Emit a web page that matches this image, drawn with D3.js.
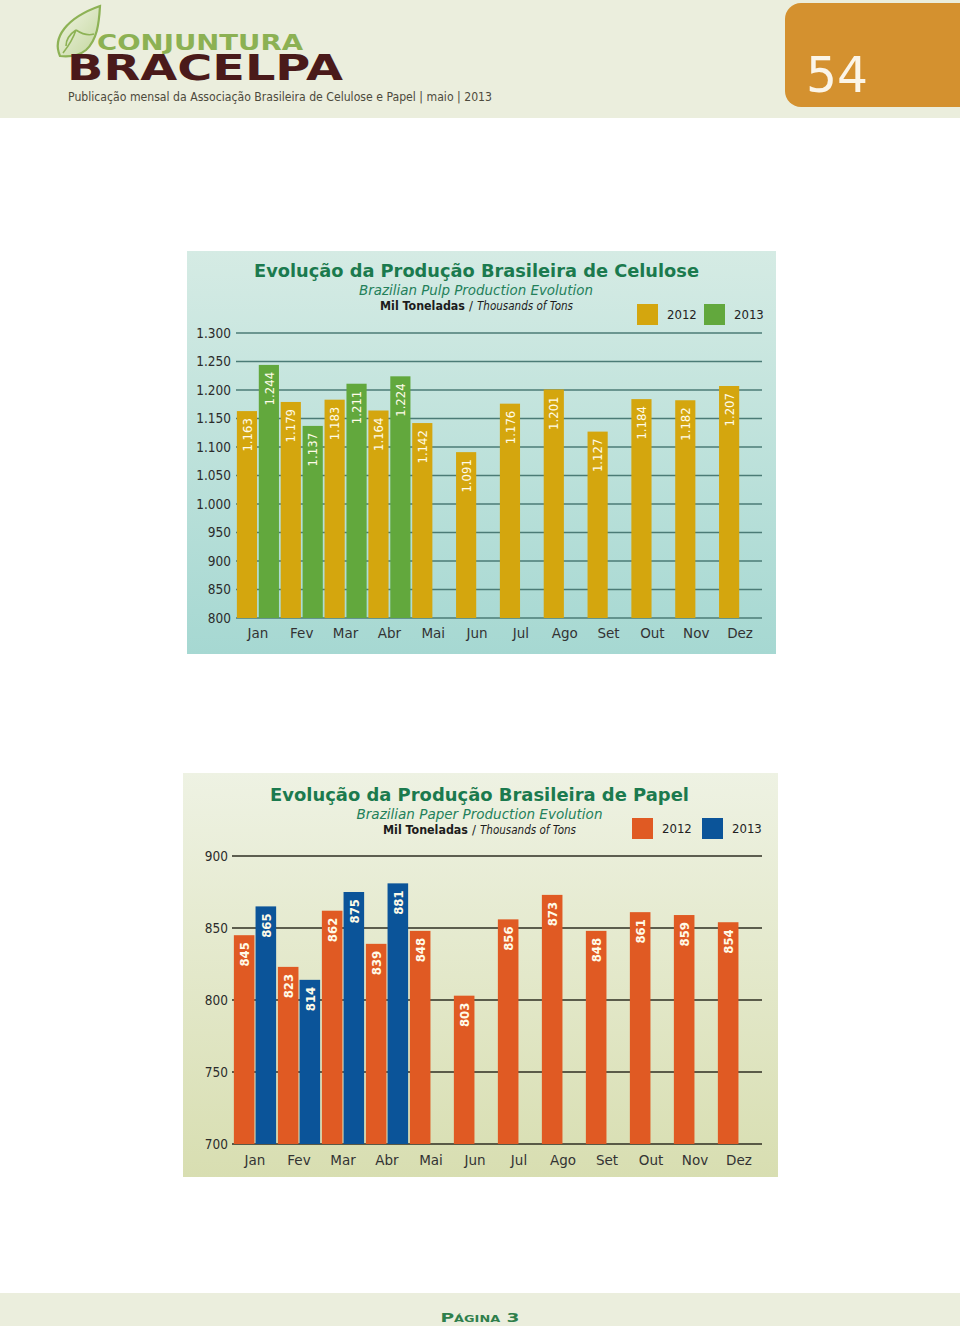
<!DOCTYPE html>
<html>
<head>
<meta charset="utf-8">
<script src="https://cdn.jsdelivr.net/npm/d3@7"></script>
<style>
  html,body{margin:0;padding:0;background:#fff;}
  svg{display:block;}
</style>
</head>
<body>
<svg id="page" width="960" height="1326"></svg>
<script>
// ---------- DATA ----------
const months = ["Jan","Fev","Mar","Abr","Mai","Jun","Jul","Ago","Set","Out","Nov","Dez"];
const years = ["2012","2013"];
const pulp2012 = [1163,1179,1183,1164,1142,1091,1176,1201,1127,1184,1182,1207];
const pulp2013 = [1244,1137,1211,1224];
const pulpTicks = [800,850,900,950,1000,1050,1100,1150,1200,1250,1300];
const paper2012 = [845,823,862,839,848,803,856,873,848,861,859,854];
const paper2013 = [865,814,875,881];
const paperTicks = [700,750,800,850,900];

const br = d3.formatLocale({decimal:",", thousands:".", grouping:[3], currency:["R$",""]});
const fmt = br.format(",d");

const svg = d3.select("#page");
const defs = svg.append("defs");

// ---------- HEADER / FOOTER ----------
svg.append("rect").attr("x",0).attr("y",0).attr("width",960).attr("height",118).attr("fill","#ebeedd");
svg.append("rect").attr("x",0).attr("y",1293).attr("width",960).attr("height",33).attr("fill","#ebeedd");

const leafG = defs.append("linearGradient").attr("id","leafG").attr("x1","0").attr("y1","0").attr("x2","1").attr("y2","1");
leafG.append("stop").attr("offset","0").attr("stop-color","#f2f5e6");
leafG.append("stop").attr("offset","1").attr("stop-color","#c2d69c");
svg.append("path")
  .attr("d","M60 56 C52 38 66 18 100 6 C99 24 97 40 86 50 C80 55 70 57 60 56 Z")
  .attr("fill","url(#leafG)").attr("stroke","#8db255").attr("stroke-width",2.2);
svg.append("path")
  .attr("d","M63 53 C70 44 74 36 76 30 M76 30 C70 34 66 40 66 46 M76 30 C82 34 88 36 94 34")
  .attr("fill","none").attr("stroke","#8db255").attr("stroke-width",1.6);

svg.append("text").attr("x",97).attr("y",50)
  .attr("font-family","DejaVu Sans").attr("font-weight","bold").attr("font-size",22)
  .attr("fill","#8cb153").attr("textLength",206).attr("lengthAdjust","spacingAndGlyphs")
  .text("CONJUNTURA");
svg.append("text").attr("x",67).attr("y",80)
  .attr("font-family","DejaVu Sans").attr("font-weight","bold").attr("font-size",36)
  .attr("fill","#4a1a1a").attr("textLength",276).attr("lengthAdjust","spacingAndGlyphs")
  .text("BRACELPA");
svg.append("text").attr("x",68).attr("y",101)
  .attr("font-family","DejaVu Sans").attr("font-size",11.5)
  .attr("fill","#4d4a3c").attr("textLength",424).attr("lengthAdjust","spacingAndGlyphs")
  .text("Publicação mensal da Associação Brasileira de Celulose e Papel | maio | 2013");

svg.append("rect").attr("x",785).attr("y",3).attr("width",200).attr("height",104).attr("rx",16)
  .attr("fill","#d4912f");
svg.append("text").attr("x",806).attr("y",92)
  .attr("font-family","DejaVu Sans").attr("font-size",50)
  .attr("fill","#fbf5e8").attr("textLength",62).attr("lengthAdjust","spacingAndGlyphs")
  .text("54");

svg.append("text").attr("x",480).attr("y",1322).attr("text-anchor","middle")
  .attr("font-family","DejaVu Sans").attr("font-weight","bold").attr("font-size",13)
  .attr("font-variant","small-caps")
  .attr("fill","#2f7f4c").attr("textLength",79).attr("lengthAdjust","spacingAndGlyphs")
  .text("Página 3");

// ---------- CHART BUILDER ----------
function chart(cfg){
  const g = svg.append("g");
  const gid = cfg.id + "bg";
  const lg = defs.append("linearGradient").attr("id",gid).attr("x1","0").attr("y1","0").attr("x2","0").attr("y2","1");
  lg.append("stop").attr("offset","0").attr("stop-color",cfg.bgTop);
  lg.append("stop").attr("offset","1").attr("stop-color",cfg.bgBottom);
  g.append("rect").attr("x",cfg.panel[0]).attr("y",cfg.panel[1])
    .attr("width",cfg.panel[2]).attr("height",cfg.panel[3]).attr("fill",`url(#${gid})`);

  const x = d3.scaleBand().domain(months).range(cfg.xRange).paddingInner(0).paddingOuter(0);
  const x1 = d3.scaleBand().domain(years).range([0,x.bandwidth()]).paddingInner(cfg.innerPad).paddingOuter(0.04);
  const y = d3.scaleLinear().domain(cfg.yDomain).range(cfg.yRange);

  // gridlines
  g.append("g").selectAll("line").data(cfg.ticks).join("line")
    .attr("x1",cfg.gridX[0]).attr("x2",cfg.gridX[1])
    .attr("y1",d=>y(d)).attr("y2",d=>y(d))
    .attr("stroke",cfg.gridColor).attr("stroke-width",1.6);

  // y tick labels
  g.append("g").selectAll("text").data(cfg.ticks).join("text")
    .attr("x",cfg.tickX).attr("y",d=>y(d)).attr("dy","0.36em")
    .attr("text-anchor","end")
    .attr("font-family","DejaVu Sans Condensed, DejaVu Sans").attr("font-stretch","condensed")
    .attr("font-size",cfg.tickSize).attr("fill","#2b2b2b")
    .text(d=>fmt(d));

  // bars
  const data = [];
  cfg.s2012.forEach((v,i)=>data.push({m:months[i],yr:"2012",v}));
  cfg.s2013.forEach((v,i)=>data.push({m:months[i],yr:"2013",v}));
  const color = d=> d.yr==="2012" ? cfg.c2012 : cfg.c2013;

  const bg = g.append("g");
  bg.selectAll("rect").data(data).join("rect")
    .attr("x",d=>x(d.m)+x1(d.yr)).attr("width",x1.bandwidth())
    .attr("y",d=>y(d.v)).attr("height",d=>y(cfg.yDomain[0])-y(d.v))
    .attr("fill",color);

  bg.selectAll("text").data(data).join("text")
    .attr("transform",d=>`translate(${x(d.m)+x1(d.yr)+x1.bandwidth()/2},${y(d.v)+7}) rotate(-90)`)
    .attr("dy","0.36em").attr("text-anchor","end")
    .attr("font-family","DejaVu Sans Condensed, DejaVu Sans").attr("font-stretch","condensed")
    .attr("font-weight",cfg.valWeight).attr("font-size",cfg.valSize).attr("fill","#fffbe8")
    .text(d=>fmt(d.v));

  // month labels
  g.append("g").selectAll("text").data(months).join("text")
    .attr("x",d=>x(d)+x.bandwidth()/2).attr("y",cfg.monthY)
    .attr("text-anchor","middle")
    .attr("font-family","DejaVu Sans").attr("font-size",13.5).attr("fill","#333")
    .text(d=>d);

  // titles
  g.append("text").attr("x",cfg.titleX).attr("y",cfg.titleY).attr("text-anchor","middle")
    .attr("font-family","DejaVu Sans").attr("font-weight","bold").attr("font-size",18)
    .attr("fill","#1b7a4e").attr("textLength",cfg.titleLen).attr("lengthAdjust","spacingAndGlyphs")
    .text(cfg.title);
  g.append("text").attr("x",cfg.subX).attr("y",cfg.titleY+18).attr("text-anchor","middle")
    .attr("font-family","DejaVu Sans").attr("font-style","italic").attr("font-size",13.5)
    .attr("fill","#23805a").attr("textLength",cfg.subLen).attr("lengthAdjust","spacingAndGlyphs")
    .text(cfg.subtitle);

  const uy = cfg.titleY + 33;
  const uf = "Liberation Sans Narrow, DejaVu Sans Condensed, Liberation Sans";
  g.append("text").attr("x",cfg.unitX).attr("y",uy)
    .attr("font-family",uf).attr("font-weight","bold").attr("font-size",13).attr("fill","#1c1c1c")
    .attr("textLength",85).attr("lengthAdjust","spacingAndGlyphs").text("Mil Toneladas");
  g.append("text").attr("x",cfg.unitX+89).attr("y",uy)
    .attr("font-family",uf).attr("font-size",13).attr("fill","#1c1c1c").text("/");
  g.append("text").attr("x",cfg.unitX+97).attr("y",uy)
    .attr("font-family",uf).attr("font-style","italic").attr("font-size",13).attr("fill","#1c1c1c")
    .attr("textLength",96).attr("lengthAdjust","spacingAndGlyphs").text("Thousands of Tons");

  // legend
  const lgG = g.append("g");
  years.forEach((yr,i)=>{
    const lx = cfg.legend[0] + i*cfg.legendStep;
    lgG.append("rect").attr("x",lx).attr("y",cfg.legend[1]).attr("width",21).attr("height",21)
      .attr("fill", yr==="2012"?cfg.c2012:cfg.c2013);
    lgG.append("text").attr("x",lx+30).attr("y",cfg.legend[1]+10.5).attr("dy","0.36em")
      .attr("font-family","DejaVu Sans Condensed, DejaVu Sans").attr("font-stretch","condensed")
      .attr("font-size",13).attr("fill","#222").text(yr);
  });
}

chart({
  id:"pulp", panel:[187,251,589,403], bgTop:"#d5ebe4", bgBottom:"#a6d8d2",
  xRange:[236,762], innerPad:0.08, yDomain:[800,1300], yRange:[618,333],
  ticks:pulpTicks, gridX:[236,762], gridColor:"#4b7b76", tickX:231, tickSize:13.5,
  s2012:pulp2012, s2013:pulp2013, c2012:"#d4a60e", c2013:"#62a83d", valSize:13, valWeight:"normal",
  monthY:638, title:"Evolução da Produção Brasileira de Celulose", titleX:476.5, titleY:277, titleLen:445,
  subtitle:"Brazilian Pulp Production Evolution", subX:476, subLen:234,
  unitX:380, legend:[637,304], legendStep:67
});

chart({
  id:"paper", panel:[183,773,595,404], bgTop:"#eef2e3", bgBottom:"#d8deb1",
  xRange:[233,761], innerPad:0.05, yDomain:[700,900], yRange:[1144,856],
  ticks:paperTicks, gridX:[232,762], gridColor:"#2e2e22", tickX:228, tickSize:13.5,
  s2012:paper2012, s2013:paper2013, c2012:"#e05a23", c2013:"#0b5499", valSize:13, valWeight:"bold",
  monthY:1165, title:"Evolução da Produção Brasileira de Papel", titleX:479.5, titleY:801, titleLen:419,
  subtitle:"Brazilian Paper Production Evolution", subX:479.5, subLen:246,
  unitX:383, legend:[632,818], legendStep:70
});
</script>
</body>
</html>
